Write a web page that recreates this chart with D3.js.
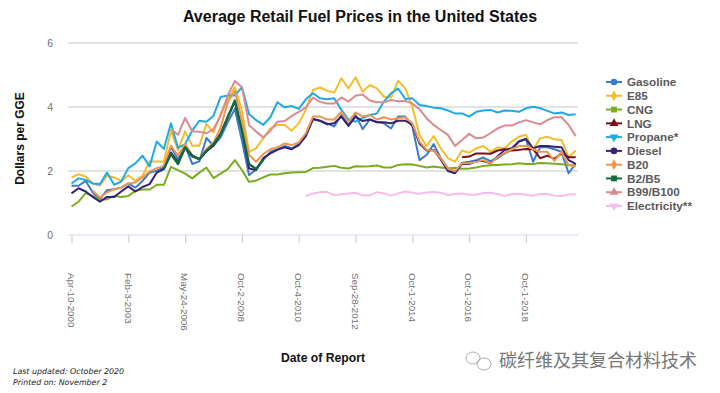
<!DOCTYPE html>
<html><head><meta charset="utf-8">
<script src="https://cdn.jsdelivr.net/npm/d3@7"></script>
<style>html,body{margin:0;padding:0;background:#fff}svg{display:block}text{font-family:"Liberation Sans",Arial,sans-serif}</style>
</head><body><svg id="c" width="720" height="393"></svg>
<script>
const chartTitle = "Average Retail Fuel Prices in the United States";
const yTitle = "Dollars per GGE";
const xTitle = "Date of Report";
const tickLabels = ["Apr-10-2000","Feb-3-2003","May-24-2006","Oct-2-2008","Oct-4-2010","Sep-28-2012","Oct-1-2014","Oct-1-2016","Oct-1-2018"];
const yTicks = [0,2,4,6];
const pointCount = 72;
const tickEvery = 8;
const seriesNames = ["Gasoline","E85","CNG","LNG","Propane*","Diesel","B20","B2/B5","B99/B100","Electricity**"];
const seriesStart = [0,0,0,55,0,0,3,13,14,33];
const gasoline = [1.54,1.54,1.69,1.33,1.12,1.40,1.43,1.48,1.61,1.48,1.69,1.95,2.01,2.11,2.76,2.37,2.79,2.22,2.30,3.03,2.79,3.05,3.52,3.94,2.95,1.87,2.05,2.34,2.60,2.68,2.78,2.71,2.84,3.13,3.61,3.57,3.49,3.39,3.75,3.44,3.75,3.31,3.61,3.54,3.49,3.33,3.70,3.70,3.39,2.34,2.50,2.84,2.40,2.08,1.95,2.26,2.29,2.34,2.42,2.31,2.40,2.55,2.66,2.92,3.00,2.29,2.74,2.74,2.68,2.60,1.93,2.22];
const e85 = [1.80,1.90,1.83,1.61,1.54,1.85,1.80,1.69,1.87,1.69,1.85,2.30,2.30,2.29,3.26,2.65,3.24,2.79,2.79,3.47,3.21,3.78,4.25,4.62,3.89,2.60,2.71,3.02,3.33,3.44,3.44,3.26,3.49,3.91,4.53,4.61,4.51,4.45,4.90,4.58,4.93,4.48,4.69,4.58,4.32,4.30,4.82,4.58,4.01,3.13,2.78,3.09,2.71,2.40,2.29,2.64,2.57,2.71,2.78,2.60,2.74,2.71,2.92,3.07,3.13,2.66,3.02,3.07,2.99,2.97,2.43,2.64];
const cng = [0.89,1.04,1.31,1.22,1.09,1.12,1.22,1.19,1.22,1.38,1.42,1.42,1.57,1.57,2.13,2.03,1.92,1.77,1.95,2.11,1.78,1.92,2.06,2.34,2.03,1.66,1.70,1.80,1.89,1.89,1.93,1.95,1.96,1.97,2.09,2.10,2.13,2.16,2.10,2.08,2.15,2.14,2.15,2.17,2.11,2.11,2.19,2.21,2.20,2.16,2.11,2.14,2.11,2.08,2.10,2.07,2.08,2.11,2.16,2.18,2.19,2.20,2.21,2.24,2.22,2.22,2.25,2.24,2.23,2.21,2.18,2.18];
const lng = [2.43,2.45,2.55,2.55,2.54,2.64,2.68,2.64,2.66,2.69,2.68,2.40,2.48,2.38,2.55,2.43,2.43];
const propane = [1.61,1.77,1.72,1.61,1.59,1.95,1.57,1.67,2.09,2.24,2.48,2.14,2.92,2.69,3.49,2.72,2.84,3.26,3.57,3.54,3.73,4.31,4.36,4.36,4.62,3.78,3.59,3.44,3.68,4.15,3.99,4.03,3.94,4.24,4.43,4.27,4.24,4.27,3.91,3.61,3.54,3.65,3.75,3.80,4.17,4.43,4.58,4.25,4.27,4.06,4.03,3.98,3.96,3.89,3.80,3.80,3.70,3.85,3.89,3.91,3.83,3.89,3.88,3.85,3.96,4.01,3.96,3.88,3.80,3.83,3.75,3.77];
const diesel = [1.30,1.46,1.36,1.19,1.04,1.19,1.19,1.36,1.52,1.36,1.50,1.59,1.95,2.06,2.58,2.27,2.72,2.45,2.37,2.61,2.79,3.16,3.68,4.18,3.26,2.08,2.03,2.40,2.55,2.66,2.74,2.68,2.81,3.09,3.63,3.57,3.46,3.49,3.70,3.41,3.70,3.56,3.61,3.52,3.52,3.49,3.57,3.57,3.44,2.86,2.64,2.66,2.36,2.00,1.93,2.22,2.22,2.31,2.31,2.24,2.45,2.66,2.71,2.92,3.00,2.71,2.78,2.78,2.76,2.74,2.34,2.22];
const b20 = [1.38,1.17,1.33,1.43,1.48,1.61,1.64,1.80,1.99,2.09,2.16,2.79,2.48,2.84,2.48,2.37,2.69,2.89,3.36,4.15,4.51,3.57,2.50,2.29,2.53,2.68,2.74,2.86,2.81,2.89,3.18,3.70,3.70,3.61,3.61,3.85,3.54,3.83,3.70,3.75,3.61,3.68,3.61,3.65,3.68,3.49,2.92,2.66,2.64,2.40,2.08,2.00,2.24,2.24,2.29,2.34,2.24,2.43,2.57,2.68,2.78,2.79,2.68,2.60,2.60,2.32,2.60,2.19,2.14];
const b2b5 = [2.06,2.53,2.22,2.74,2.48,2.37,2.63,2.84,3.16,3.68,4.20,3.26,2.22,2.06,2.36];
const b99 = [3.31,3.13,3.66,3.24,3.23,3.18,3.31,3.73,4.36,4.81,4.62,3.44,3.23,3.05,3.26,3.54,3.56,3.72,3.85,3.99,4.29,4.16,4.11,4.11,4.30,4.17,4.35,4.39,4.20,4.15,4.15,4.22,4.18,4.19,4.11,3.93,3.65,3.44,3.28,3.13,2.78,2.97,3.16,3.02,3.05,3.18,3.33,3.42,3.42,3.52,3.59,3.52,3.46,3.59,3.68,3.68,3.44,3.09];
const electricity = [1.22,1.30,1.34,1.34,1.25,1.27,1.30,1.32,1.24,1.24,1.34,1.30,1.23,1.30,1.36,1.32,1.29,1.33,1.34,1.32,1.25,1.28,1.30,1.26,1.26,1.31,1.32,1.28,1.22,1.28,1.29,1.26,1.23,1.28,1.28,1.23,1.22,1.27,1.27];
const seriesValues = [gasoline,e85,cng,lng,propane,diesel,b20,b2b5,b99,electricity];
const seriesColors = ["#3a7bcb","#f3bd2c","#78ad20","#7a0f14","#1fa9e6","#3a2070","#ee9650","#12693c","#db8b90","#f7bdea"];
const seriesSymbols = [d3.symbolCircle,d3.symbolDiamond,d3.symbolSquare,d3.symbolTriangle,d3.symbolTriangle,d3.symbolCircle,d3.symbolDiamond,d3.symbolSquare,d3.symbolTriangle,d3.symbolTriangle];
const flipped = [false,false,false,false,true,false,false,false,false,true];

const svg = d3.select("#c");
const x = d3.scaleLinear().domain([0,pointCount-1]).range([71.5,575.7]);
const y = d3.scaleLinear().domain([0,6]).range([235,43]);

// grid
svg.append("g").selectAll("line").data(yTicks.filter(d=>d>0)).join("line")
  .attr("x1",68).attr("x2",578).attr("y1",d=>y(d)).attr("y2",d=>y(d))
  .attr("stroke","#c6c6c6").attr("stroke-width",1.2);

// y axis
const yAxis = svg.append("g").attr("transform","translate(53,0)")
  .call(d3.axisLeft(y).tickValues(yTicks).tickSize(0).tickFormat(d3.format("d")));
yAxis.select(".domain").remove();
yAxis.selectAll("text").attr("font-size",10.5).attr("fill","#707070").attr("dx",3).style("font-family",'"Liberation Sans"');

// x axis
const tickIdx = tickLabels.map((_,i)=>i*tickEvery);
const xAxis = svg.append("g").attr("transform","translate(0,235)")
  .call(d3.axisBottom(x).tickValues(tickIdx).tickSize(8).tickFormat(d=>tickLabels[d/tickEvery]));
xAxis.select(".domain").attr("d","M68,0H578").attr("stroke","#d3dae8").attr("stroke-width",1.2);
xAxis.selectAll(".tick line").attr("stroke","#d0d0d0").attr("stroke-width",1.2);
xAxis.selectAll(".tick text")
  .attr("transform","translate(-0.8,38) rotate(90)")
  .attr("x",0).attr("y",0).attr("dy","0.35em")
  .attr("text-anchor","start").attr("font-size",9.8).attr("fill","#707070")
  .style("font-family",'"Liberation Sans"');

// lines
const line = d3.line().x(d=>x(d.i)).y(d=>y(d.v));
seriesNames.forEach((n,k)=>{
  const pts = seriesValues[k].map((v,j)=>({i:seriesStart[k]+j,v}));
  svg.append("path").datum(pts).attr("d",line).attr("fill","none")
    .attr("stroke",seriesColors[k]).attr("stroke-width",k===7?2.4:2).attr("stroke-linejoin","round");
});

// titles
svg.append("text").attr("x",360).attr("y",22).attr("text-anchor","middle")
  .attr("font-size",16).attr("font-weight","bold").attr("fill","#111").text(chartTitle);
svg.append("text").attr("transform","translate(24,138.5) rotate(-90)").attr("text-anchor","middle")
  .attr("font-size",12).attr("font-weight","bold").attr("fill","#111").text(yTitle);
svg.append("text").attr("x",323).attr("y",362).attr("text-anchor","middle")
  .attr("font-size",12.2).attr("font-weight","bold").attr("fill","#111").text(xTitle);

// legend
const legendY = d3.scaleLinear().domain([0,9]).range([82,206]);
const lg = svg.append("g").selectAll("g").data(seriesNames).join("g")
  .attr("transform",(d,i)=>`translate(606,${legendY(i)})`);
lg.append("line").attr("x1",0).attr("x2",16).attr("stroke",(d,i)=>seriesColors[i]).attr("stroke-width",2);
lg.append("path").attr("transform",(d,i)=>`translate(8,0)${flipped[i]?" rotate(180)":""}`)
  .attr("d",(d,i)=>d3.symbol().type(seriesSymbols[i]).size(34)()).attr("fill",(d,i)=>seriesColors[i]);
lg.append("text").attr("x",21).attr("dy","0.36em").attr("font-size",11.7).attr("font-weight","bold")
  .attr("fill","#5a5a5a").text(d=>d);

// notes
const notes = ["Last updated: October 2020","Printed on: November 2"];
svg.append("g").selectAll("text").data(notes).join("text")
  .attr("x",13).attr("y",(d,i)=>374+i*11).attr("font-size",7.9).attr("font-style","italic")
  .attr("fill","#222").style("font-family",'"DejaVu Sans"').text(d=>d);

// watermark
const wm = svg.append("g").attr("fill","none").attr("stroke","#999").attr("stroke-width",0.8);
wm.append("ellipse").attr("cx",473).attr("cy",358).attr("rx",7).attr("ry",6);
wm.append("ellipse").attr("cx",484).attr("cy",364).attr("rx",7).attr("ry",6);
svg.append("text").attr("x",499).attr("y",367).attr("font-size",18).attr("fill","#777")
  .style("font-family",'"Noto Sans CJK SC"').text("碳纤维及其复合材料技术");
</script></body></html>
